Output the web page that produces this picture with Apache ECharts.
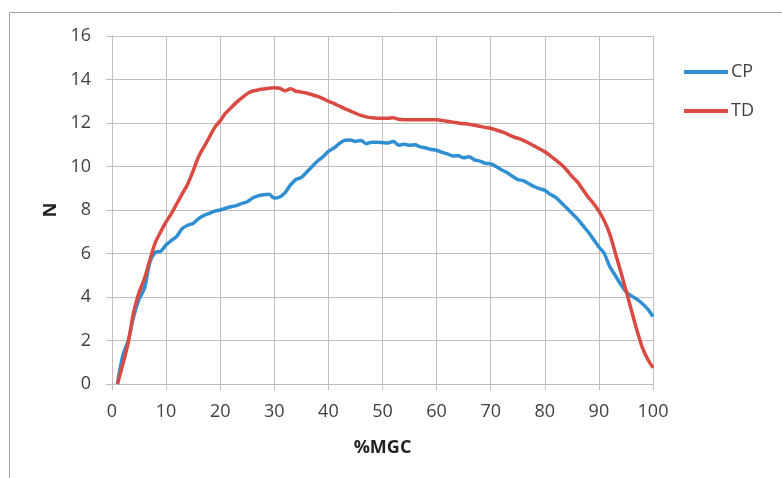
<!DOCTYPE html>
<html>
<head>
<meta charset="utf-8">
<script src="https://cdn.jsdelivr.net/npm/echarts@6/dist/echarts.min.js"></script>
<style>html,body{margin:0;padding:0;background:#fff;}#c{width:782px;height:478px;}</style>
</head>
<body>
<div id="c"></div>
<script>
const xValues = Array.from({length: 100}, (_, i) => i + 1);
const cpValues = [0,1.3,2.0,3.1,3.9,4.4,5.6,6.05,6.1,6.4,
6.6,6.8,7.15,7.3,7.38,7.6,7.75,7.85,7.95,8.0,
8.08,8.15,8.2,8.3,8.38,8.55,8.65,8.7,8.72,8.55,
8.6,8.8,9.15,9.4,9.5,9.75,10.0,10.25,10.45,10.7,
10.85,11.05,11.2,11.22,11.15,11.2,11.05,11.12,11.12,11.1,
11.08,11.15,10.98,11.02,10.98,11.0,10.9,10.85,10.78,10.75,
10.65,10.58,10.48,10.5,10.4,10.45,10.3,10.25,10.15,10.12,
10.0,9.85,9.72,9.55,9.4,9.35,9.22,9.08,8.98,8.9,
8.72,8.58,8.35,8.1,7.85,7.6,7.3,7.0,6.65,6.3,
6.0,5.4,5.0,4.6,4.25,4.05,3.9,3.7,3.45,3.1];
const tdValues = [0,0.9,1.9,3.3,4.2,4.85,5.7,6.5,7.0,7.45,
7.85,8.3,8.75,9.2,9.8,10.45,10.9,11.35,11.8,12.1,
12.45,12.7,12.95,13.15,13.35,13.47,13.52,13.56,13.6,13.62,
13.6,13.48,13.58,13.46,13.42,13.37,13.3,13.22,13.12,13.0,
12.9,12.78,12.66,12.56,12.45,12.35,12.28,12.24,12.22,12.22,
12.22,12.24,12.17,12.15,12.15,12.15,12.15,12.15,12.15,12.15,
12.12,12.08,12.04,12.0,11.97,11.94,11.9,11.85,11.8,11.76,
11.68,11.6,11.5,11.38,11.3,11.2,11.08,10.95,10.82,10.68,
10.5,10.3,10.1,9.85,9.55,9.3,8.95,8.6,8.3,7.95,
7.5,6.9,6.05,5.2,4.3,3.4,2.5,1.7,1.15,0.75];
const xTicks = [0,10,20,30,40,50,60,70,80,90,100];
const yTicks = [0,2,4,6,8,10,12,14,16];

const gridColor = '#bfbfbf';
const textColor = '#404040';
const chart = echarts.init(document.getElementById('c'), null, {renderer: 'canvas'});
chart.setOption({
  animation: false,
  backgroundColor: '#fff',
  graphic: [{
    type: 'rect', shape: {x: 9.5, y: 12.5, width: 900, height: 600},
    style: {fill: 'none', stroke: '#a6a6a6', lineWidth: 1}, silent: true
  }],
  grid: {left: 112, top: 36, width: 541, height: 348},
  legend: {
    orient: 'vertical', left: 679, top: 58, itemWidth: 44, itemHeight: 4, itemGap: 21,
    icon: 'rect',
    textStyle: {fontFamily: 'Open Sans', fontSize: 18, color: textColor, padding: [0,0,0,-2]},
    data: ['CP', 'TD']
  },
  xAxis: {
    type: 'value', min: xTicks[0], max: xTicks[xTicks.length - 1], interval: 10,
    name: '%MGC', nameLocation: 'middle', nameGap: 55,
    nameTextStyle: {fontFamily: 'Open Sans', fontWeight: 'bold', fontSize: 18, color: '#222'},
    axisLine: {lineStyle: {color: gridColor}},
    axisTick: {show: true, length: 6, lineStyle: {color: gridColor}},
    splitLine: {show: true, lineStyle: {color: gridColor, width: 1}},
    axisLabel: {fontFamily: 'Open Sans', fontSize: 18, color: textColor, margin: 19}
  },
  yAxis: {
    type: 'value', min: yTicks[0], max: yTicks[yTicks.length - 1], interval: 2,
    name: 'N', nameLocation: 'middle', nameGap: 49, nameRotate: 90,
    nameTextStyle: {fontFamily: 'Open Sans', fontWeight: 'bold', fontSize: 18, color: '#222'},
    axisLine: {show: true, lineStyle: {color: gridColor}},
    axisTick: {show: true, length: 6, lineStyle: {color: gridColor}},
    splitLine: {show: true, lineStyle: {color: gridColor, width: 1}},
    axisLabel: {fontFamily: 'Open Sans', fontSize: 18, color: textColor, margin: 21}
  },
  series: [
    {name: 'CP', type: 'line', showSymbol: false, smooth: 0.3,
     data: xValues.map((x, i) => [x, cpValues[i]]),
     lineStyle: {color: '#2f8fd2', width: 3.5}, itemStyle: {color: '#2f8fd2'}},
    {name: 'TD', type: 'line', showSymbol: false, smooth: 0.3,
     data: xValues.map((x, i) => [x, tdValues[i]]),
     lineStyle: {color: '#d94a43', width: 3.5}, itemStyle: {color: '#d94a43'}}
  ]
});
</script>
</body>
</html>
